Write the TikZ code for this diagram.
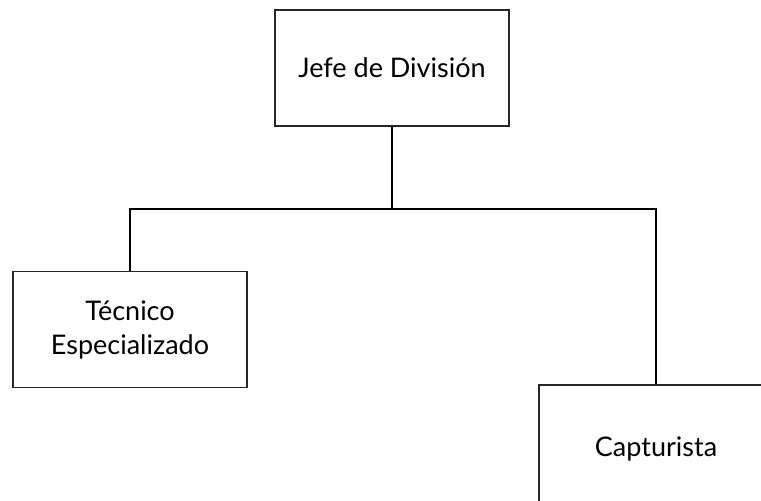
\documentclass[tikz,border=0pt]{standalone}
\usepackage{fontspec}
\setmainfont{Lato}

\begin{document}
\begin{tikzpicture}[x=0.5pt,y=-0.5pt,
    puesto/.style={draw=black!85, line width=0.6pt, fill=white, minimum width=117pt, minimum height=58pt, align=center, font=\fontsize{13.5}{17}\selectfont},
    enlace/.style={black, line width=1.2pt}]
    \useasboundingbox (0,0) rectangle (761,500);
    \clip (0,0) rectangle (761,500);
    \node[puesto] (jefe) at (392,68) {Jefe de División};
    \node[puesto] (tecnico) at (130,329.5) {Técnico\\Especializado};
    \node[puesto, minimum height=66pt] (capturista) at (656,451) {\raisebox{4pt}{Capturista}};
    \coordinate (bus) at (392,209);
    \draw[enlace] (jefe.south) -- (bus);
    \draw[enlace] (tecnico.north) |- (bus) -| (capturista.north);
\end{tikzpicture}
\end{document}
